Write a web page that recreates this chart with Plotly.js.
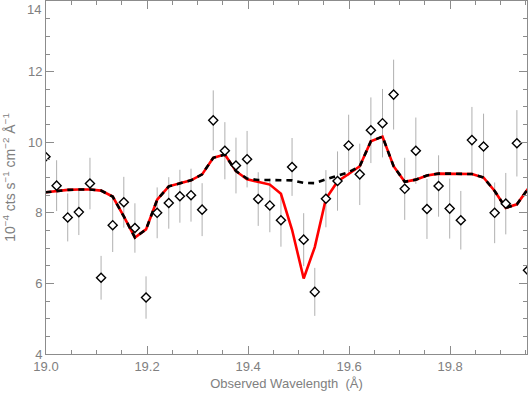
<!DOCTYPE html>
<html>
<head>
<meta charset="utf-8">
<script src="https://cdn.plot.ly/plotly-3.0.1.min.js"></script>
<style>
  html, body { margin: 0; padding: 0; background: #fff; }
  #chart { width: 528px; height: 396px; }
</style>
</head>
<body>
<div id="chart"></div>
<script>
// observed bins (Å) and flux (1e-4 cts/s/cm2/Å)
const wave = [18.999, 19.021, 19.043, 19.065, 19.087, 19.109, 19.132, 19.154, 19.176, 19.198,
              19.220, 19.243, 19.265, 19.287, 19.309, 19.331, 19.354, 19.376, 19.398, 19.420,
              19.443, 19.465, 19.487, 19.510, 19.532, 19.554, 19.577, 19.599, 19.621, 19.643,
              19.666, 19.688, 19.710, 19.732, 19.754, 19.777, 19.799, 19.821, 19.843, 19.866,
              19.888, 19.910, 19.932, 19.954];
const flux = [9.59, 8.77, 7.87, 8.02, 8.83, 6.16, 7.65, 8.30, 7.57, 5.60,
              8.00, 8.28, 8.47, 8.50, 8.09, 10.62, 9.76, 9.34, 9.52, 8.39,
              8.21, 7.79, 9.30, 7.24, 5.76, 8.40, 8.90, 9.91, 9.09, 10.34,
              10.54, 11.35, 8.68, 9.76, 8.11, 8.76, 8.12, 7.79, 10.06, 9.88,
              8.00, 8.26, 9.97, 6.37];
const fluxErr = [0.80, 0.72, 0.68, 0.65, 0.73, 0.62, 0.76, 0.72, 0.70, 0.60,
                 0.72, 0.73, 0.75, 0.75, 0.75, 0.85, 0.81, 0.79, 0.80, 0.76,
                 0.76, 0.75, 0.82, 0.75, 0.68, 0.81, 0.84, 0.87, 0.87, 0.93,
                 0.97, 0.99, 0.88, 0.94, 0.85, 0.87, 0.85, 0.83, 0.94, 0.93,
                 0.86, 0.87, 0.94, 0.75];
// model with the absorption line (red) and without it (dashed)
const modelAbs = [8.58, 8.62, 8.65, 8.66, 8.66, 8.63, 8.46, 7.90, 7.30, 7.53,
                  8.37, 8.75, 8.83, 8.92, 9.09, 9.56, 9.65, 9.18, 8.95, 8.87,
                  8.80, 8.54, 7.52, 6.14, 7.03, 8.40, 8.89, 9.10, 9.32, 10.03,
                  10.16, 9.32, 8.88, 8.94, 9.06, 9.11, 9.11, 9.11, 9.10, 9.00,
                  8.62, 8.14, 8.24, 8.68];
const modelCont = [8.58, 8.62, 8.65, 8.66, 8.66, 8.63, 8.46, 7.90, 7.30, 7.53,
                   8.37, 8.75, 8.83, 8.92, 9.09, 9.56, 9.65, 9.18, 8.97, 8.93,
                   8.93, 8.93, 8.92, 8.85, 8.84, 8.95, 9.06, 9.15, 9.32, 10.03,
                   10.16, 9.32, 8.88, 8.94, 9.06, 9.11, 9.11, 9.11, 9.10, 9.00,
                   8.62, 8.14, 8.24, 8.68];

const xTicks = [19.0, 19.2, 19.4, 19.6, 19.8];
const yTicks = [4, 6, 8, 10, 12, 14];
// top label sits at the frame edge, so it is drawn as an annotation below
const yTickText = ['4', '6', '8', '10', '12', ''];

const axisGray = '#8c8c8c';
const labelFont = { family: 'Liberation Sans, Arial, sans-serif', size: 13, color: '#808080' };

const traces = [
  {
    x: wave, y: flux, mode: 'markers', type: 'scatter', hoverinfo: 'skip',
    marker: { size: 7, opacity: 0 },
    error_y: { type: 'data', array: fluxErr, visible: true, color: '#b0b0b0', thickness: 1, width: 0 }
  },
  {
    x: wave, y: modelAbs, mode: 'lines', type: 'scatter',
    line: { color: '#ff0000', width: 2.6 }
  },
  {
    x: wave, y: modelCont, mode: 'lines', type: 'scatter',
    line: { color: '#000000', width: 2.6, dash: '6px,5px' }
  },
  {
    x: wave, y: flux, mode: 'markers', type: 'scatter',
    marker: { symbol: 'diamond', size: 7, color: '#ffffff', line: { color: '#000000', width: 1.4 } }
  }
];

const layout = {
  width: 528, height: 396,
  margin: { l: 46, r: 1, t: 1, b: 42 },
  showlegend: false,
  paper_bgcolor: '#ffffff', plot_bgcolor: '#ffffff',
  xaxis: {
    range: [19.0, 19.952],
    tickvals: xTicks, ticktext: xTicks.map(v => v.toFixed(1)),
    ticks: 'inside', ticklen: 8, tickcolor: axisGray, tickwidth: 1,
    minor: { dtick: 0.05, tick0: 19.0, ticks: 'inside', ticklen: 4, tickcolor: axisGray, showgrid: false },
    showline: true, linecolor: axisGray, linewidth: 1, mirror: 'ticks',
    showgrid: false, zeroline: false,
    tickfont: labelFont,
    title: { text: 'Observed Wavelength  (Å)', font: labelFont, standoff: 6 }
  },
  yaxis: {
    range: [4, 14.002],
    tickvals: yTicks, ticktext: yTickText,
    ticks: 'inside', ticklen: 8, tickcolor: axisGray, tickwidth: 1,
    minor: { dtick: 0.5, tick0: 4, ticks: 'inside', ticklen: 4, tickcolor: axisGray, showgrid: false },
    showline: true, linecolor: axisGray, linewidth: 1, mirror: 'ticks',
    showgrid: false, zeroline: false,
    tickfont: labelFont,
    title: { text: '10<sup>−4</sup> cts s<sup>−1</sup> cm<sup>−2</sup> Å<sup>−1</sup>',
             font: Object.assign({}, labelFont, { size: 14 }), standoff: 10 }
  },
  annotations: [{
    text: '14', xref: 'paper', yref: 'paper', x: 0, y: 1,
    xanchor: 'right', yanchor: 'top', xshift: -3, yshift: 1,
    showarrow: false, font: labelFont
  }]
};

Plotly.newPlot('chart', traces, layout, { staticPlot: true, displayModeBar: false });
</script>
</body>
</html>
